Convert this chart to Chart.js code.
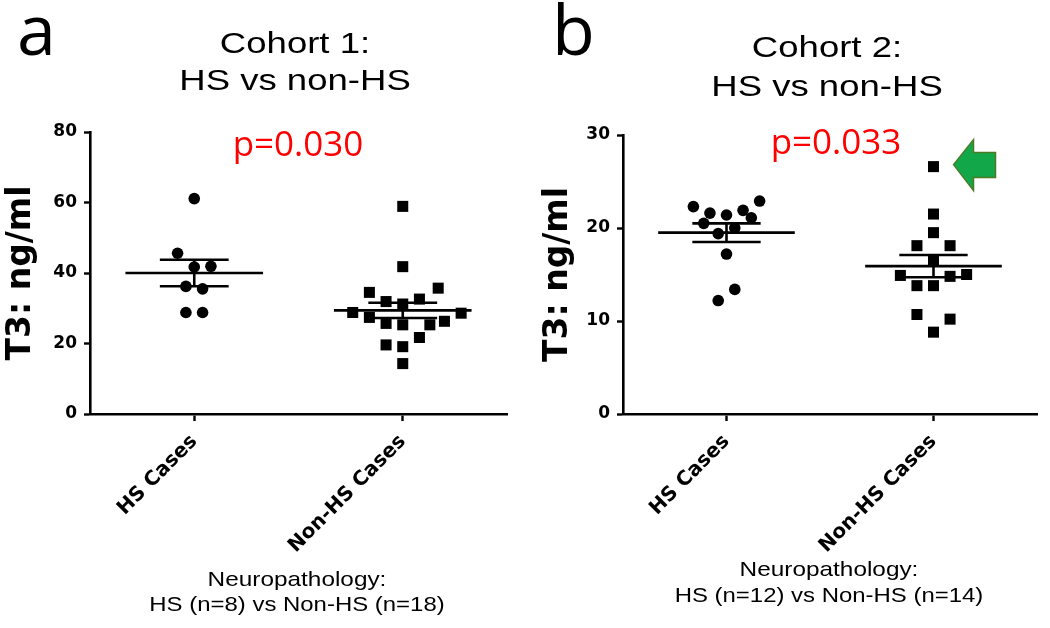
<!DOCTYPE html>
<html>
<head>
<meta charset="utf-8">
<script src="https://cdn.jsdelivr.net/npm/chart.js@4.4.1/dist/chart.umd.min.js"></script>
<style>
  html,body{margin:0;padding:0;background:#fff;}
  #wrap{position:relative;width:1050px;height:628px;overflow:hidden;}
  .panel{position:absolute;top:0;width:525px;height:628px;}
</style>
</head>
<body>
<div id="wrap">
  <div class="panel" style="left:0"><canvas id="chartA" width="525" height="628"></canvas></div>
  <div class="panel" style="left:525px"><canvas id="chartB" width="525" height="628"></canvas></div>
</div>
<script>
// categories / tick labels
const groups = ['HS Cases', 'Non-HS Cases'];
const yTicksA = [0, 20, 40, 60, 80];
const yTicksB = [0, 10, 20, 30];

// cohort 1 (panel a) - x is the jittered column position, y is T3
const a_hs_x  = [1.00, 0.92, 1.00, 1.08, 0.96, 1.04, 0.96, 1.04];
const a_hs_y  = [61.1, 45.6, 41.7, 41.9, 36.2, 35.5, 28.8, 28.8];
const a_non_x = [2.00, 2.00, 1.84, 2.17, 1.92, 2.08, 2.00, 1.76, 2.28, 1.84, 1.92, 2.00, 2.13, 2.20, 2.08, 1.92, 2.00, 2.00];
const a_non_y = [58.9, 41.8, 34.5, 35.7, 31.9, 32.6, 31.2, 28.8, 28.6, 27.4, 25.7, 25.3, 25.3, 26.3, 21.7, 19.6, 19.1, 14.3];
const a_mean = [40.0, 29.4];
const a_sem  = [3.75, 2.15];

// cohort 2 (panel b)
const b_hs_x  = [0.84, 0.92, 1.00, 1.08, 1.16, 1.12, 0.89, 1.04, 0.96, 1.00, 1.04, 0.96];
const b_hs_y  = [22.3, 21.6, 21.4, 21.9, 22.9, 21.1, 20.5, 20.0, 19.4, 17.2, 13.4, 12.2];
const b_non_x = [2.00, 2.00, 2.00, 1.92, 2.08, 2.00, 1.84, 2.08, 2.16, 1.92, 2.00, 1.92, 2.08, 2.00];
const b_non_y = [26.6, 21.5, 19.5, 18.1, 18.1, 16.5, 14.9, 14.8, 15.0, 13.8, 13.8, 10.7, 10.2, 8.8];
const b_mean = [19.5, 15.9];
const b_sem  = [1.0, 1.2];

const pts = (xs, ys) => xs.map((x, i) => ({x, y: ys[i]}));

// mean line + sem bar as broken line segments
function meanSem(means, sems){
  const out = [];
  const gap = {x: NaN, y: null};
  means.forEach((m, i) => {
    const c = i + 1, s = sems[i];
    out.push({x: c - 0.33, y: m}, {x: c + 0.33, y: m}, gap);
    out.push({x: c - 0.165, y: m + s}, {x: c + 0.165, y: m + s}, gap);
    out.push({x: c - 0.165, y: m - s}, {x: c + 0.165, y: m - s}, gap);
    out.push({x: c, y: m - s}, {x: c, y: m + s}, gap);
  });
  return out;
}

function wideText(ctx, txt, cx, y, font, sx, color){
  ctx.save();
  ctx.font = font;
  ctx.fillStyle = color || '#000';
  ctx.textAlign = 'center';
  ctx.textBaseline = 'alphabetic';
  ctx.translate(cx, y);
  ctx.scale(sx, 1);
  ctx.fillText(txt, 0, 0);
  ctx.restore();
}

const labelsPlugin = {
  id: 'panelLabels',
  afterDraw(chart, args, o){
    const ctx = chart.ctx;
    ctx.save();
    ctx.font = '70px "Open Sans"';
    ctx.fillStyle = '#000';
    ctx.textAlign = 'left';
    ctx.fillText(o.letter, o.letterX, 55);
    ctx.restore();
    wideText(ctx, o.title[0], o.titleX, o.titleY[0], '29px "Liberation Sans", Arial', 1.26);
    wideText(ctx, o.title[1], o.titleX, o.titleY[1], '29px "Liberation Sans", Arial', 1.26);
    wideText(ctx, o.p, o.pX, o.pY, '35px "Open Sans"', 1, '#ff0000');
    wideText(ctx, o.foot[0], o.footX, o.footY[0], '21px "Liberation Sans", Arial', 1.16);
    wideText(ctx, o.foot[1], o.footX, o.footY[1], '21px "Liberation Sans", Arial', 1.14);

    if (o.arrowAt){
      const xs = chart.scales.x, ys = chart.scales.y;
      const tx = xs.getPixelForValue(o.arrowAt.x) + 20;
      const ty = ys.getPixelForValue(o.arrowAt.y) - 2;
      ctx.save();
      ctx.beginPath();
      ctx.moveTo(tx, ty);
      ctx.lineTo(tx + 20, ty - 25);
      ctx.lineTo(tx + 20, ty - 12);
      ctx.lineTo(tx + 42, ty - 12);
      ctx.lineTo(tx + 42, ty + 13);
      ctx.lineTo(tx + 20, ty + 13);
      ctx.lineTo(tx + 20, ty + 26);
      ctx.closePath();
      ctx.fillStyle = '#12a84a';
      ctx.fill();
      ctx.lineWidth = 1.5;
      ctx.strokeStyle = '#4e7a27';
      ctx.stroke();
      ctx.restore();
    }
  }
};

function makePanel(id, cfg){
  return new Chart(document.getElementById(id), {
    type: 'scatter',
    data: {
      datasets: [
        { data: pts(cfg.hsX, cfg.hsY), pointStyle: 'circle', pointRadius: 5.8,
          backgroundColor: '#000', borderColor: '#000', borderWidth: 0 },
        { data: pts(cfg.nonX, cfg.nonY), pointStyle: 'rect', pointRadius: 7.8,
          backgroundColor: '#000', borderColor: '#000', borderWidth: 0 },
        { data: meanSem(cfg.mean, cfg.sem), showLine: true, spanGaps: false,
          pointRadius: 0, borderColor: '#000', borderWidth: 2.6, fill: false }
      ]
    },
    options: {
      responsive: false,
      animation: false,
      layout: { padding: { top: cfg.top, right: cfg.right, left: 0, bottom: 0 } },
      plugins: {
        legend: { display: false },
        tooltip: { enabled: false },
        panelLabels: cfg.labels
      },
      scales: {
        x: {
          type: 'linear', min: 0.5, max: 2.5,
          afterBuildTicks: ax => { ax.ticks = [{value: 1}, {value: 2}]; },
          afterFit: ax => { ax.height = 214; },
          border: { display: true, color: '#000', width: 2.6 },
          grid: { drawOnChartArea: false, drawTicks: true, tickLength: 7, tickColor: '#000', tickWidth: 2.4 },
          ticks: {
            minRotation: 45, maxRotation: 45, padding: 9, color: '#000',
            font: { family: '"DejaVu Sans"', weight: 'bold', size: 20 },
            callback: v => groups[v - 1] || ''
          }
        },
        y: {
          min: 0, max: cfg.yTicks[cfg.yTicks.length - 1],
          afterBuildTicks: ax => { ax.ticks = cfg.yTicks.map(v => ({value: v})); },
          afterFit: ax => { ax.width = cfg.yWidth; },
          border: { display: true, color: '#000', width: 2.6 },
          grid: { drawOnChartArea: false, drawTicks: true, tickLength: 6, tickColor: '#000', tickWidth: 2.4 },
          ticks: { padding: 7, color: '#000', font: { family: '"DejaVu Sans"', weight: 'bold', size: 17 } },
          title: {
            display: true, text: 'T3: ng/ml', color: '#000',
            font: { family: '"DejaVu Sans"', weight: 'bold', size: 33 },
            padding: { top: cfg.titlePad, bottom: 0 }
          }
        }
      }
    },
    plugins: [labelsPlugin]
  });
}

makePanel('chartA', {
  hsX: a_hs_x, hsY: a_hs_y, nonX: a_non_x, nonY: a_non_y, mean: a_mean, sem: a_sem,
  yTicks: yTicksA, top: 132, right: 18, yWidth: 90, titlePad: 2,
  labels: {
    letter: 'a', letterX: 17,
    title: ['Cohort 1:', 'HS vs non-HS'], titleX: 295, titleY: [53, 90],
    p: 'p=0.030', pX: 298, pY: 156,
    foot: ['Neuropathology:', 'HS (n=8) vs Non-HS (n=18)'], footX: 297, footY: [586, 611]
  }
});

makePanel('chartB', {
  hsX: b_hs_x, hsY: b_hs_y, nonX: b_non_x, nonY: b_non_y, mean: b_mean, sem: b_sem,
  yTicks: yTicksB, top: 135, right: 13, yWidth: 98, titlePad: 14,
  labels: {
    letter: 'b', letterX: 27,
    title: ['Cohort 2:', 'HS vs non-HS'], titleX: 302, titleY: [57, 96],
    p: 'p=0.033', pX: 311, pY: 154,
    foot: ['Neuropathology:', 'HS (n=12) vs Non-HS (n=14)'], footX: 304, footY: [576, 602],
    arrowAt: { x: b_non_x[0], y: b_non_y[0] }
  }
});
</script>
</body>
</html>
